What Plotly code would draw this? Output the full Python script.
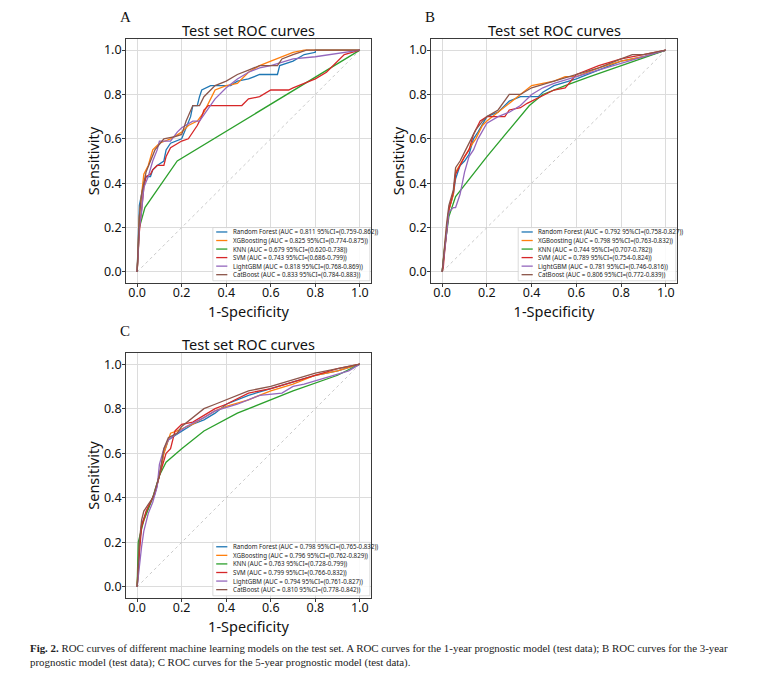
import plotly.graph_objects as go

# model names / colours (matplotlib tab10)
models = ["Random Forest", "XGBoosting", "KNN", "SVM", "LightGBM", "CatBoost"]
colors = ["#1f77b4", "#ff7f0e", "#2ca02c", "#d62728", "#9467bd", "#8c564b"]

# ---- panel A: 1-year model ----
a_auc = ["0.811", "0.825", "0.679", "0.743", "0.818", "0.833"]
a_ci = ["0.759-0.862", "0.774-0.875", "0.620-0.738", "0.686-0.799", "0.768-0.869", "0.784-0.883"]
a_rf_fpr = [0, 0.005, 0.01, 0.02, 0.03, 0.04, 0.06, 0.07, 0.09, 0.12, 0.13, 0.15, 0.18, 0.2, 0.22, 0.24, 0.25, 0.27, 0.28, 0.29, 0.33, 0.37, 0.42, 0.45, 0.5, 0.55, 0.63, 0.64, 0.7, 0.75, 0.8, 0.8, 1]
a_rf_tpr = [0, 0.2, 0.3, 0.35, 0.4, 0.43, 0.43, 0.46, 0.48, 0.5, 0.55, 0.58, 0.59, 0.6, 0.65, 0.7, 0.75, 0.75, 0.79, 0.82, 0.84, 0.84, 0.84, 0.86, 0.87, 0.89, 0.89, 0.93, 0.95, 0.98, 0.99, 1.0, 1]
a_xgb_fpr = [0, 0.01, 0.02, 0.03, 0.05, 0.07, 0.1, 0.15, 0.2, 0.23, 0.27, 0.3, 0.33, 0.35, 0.4, 0.45, 0.5, 0.55, 0.6, 0.65, 0.7, 0.75, 1]
a_xgb_tpr = [0, 0.25, 0.35, 0.44, 0.48, 0.55, 0.58, 0.6, 0.63, 0.66, 0.68, 0.72, 0.78, 0.82, 0.84, 0.85, 0.9, 0.93, 0.95, 0.97, 0.99, 1.0, 1]
a_knn_fpr = [0, 0.005, 0.01, 0.035, 0.18, 1]
a_knn_tpr = [0, 0.1, 0.2, 0.29, 0.5, 1]
a_svm_fpr = [0, 0.01, 0.02, 0.03, 0.04, 0.06, 0.07, 0.09, 0.12, 0.13, 0.15, 0.18, 0.2, 0.23, 0.25, 0.27, 0.29, 0.3, 0.32, 0.4, 0.47, 0.5, 0.55, 0.6, 0.68, 0.7, 0.75, 0.8, 0.85, 0.9, 0.93, 1]
a_svm_tpr = [0, 0.18, 0.28, 0.38, 0.43, 0.44, 0.46, 0.48, 0.48, 0.52, 0.56, 0.58, 0.59, 0.6, 0.63, 0.66, 0.7, 0.73, 0.75, 0.75, 0.75, 0.78, 0.79, 0.82, 0.82, 0.83, 0.85, 0.87, 0.9, 0.95, 0.98, 1]
a_lgb_fpr = [0, 0.01, 0.02, 0.03, 0.05, 0.07, 0.09, 0.1, 0.15, 0.18, 0.2, 0.25, 0.28, 0.3, 0.35, 0.4, 0.45, 0.5, 0.55, 0.6, 0.7, 0.8, 0.93, 1]
a_lgb_tpr = [0, 0.2, 0.27, 0.38, 0.43, 0.5, 0.55, 0.59, 0.59, 0.63, 0.65, 0.68, 0.68, 0.71, 0.78, 0.83, 0.87, 0.9, 0.92, 0.93, 0.96, 0.97, 0.99, 1]
a_cat_fpr = [0, 0.01, 0.02, 0.04, 0.06, 0.08, 0.12, 0.17, 0.2, 0.22, 0.25, 0.28, 0.3, 0.33, 0.35, 0.4, 0.45, 0.5, 0.55, 0.63, 0.65, 0.7, 0.76, 1]
a_cat_tpr = [0, 0.25, 0.35, 0.45, 0.5, 0.55, 0.6, 0.61, 0.62, 0.68, 0.75, 0.75, 0.79, 0.82, 0.84, 0.86, 0.89, 0.91, 0.93, 0.93, 0.96, 0.98, 1.0, 1]

# ---- panel B: 3-year model ----
b_auc = ["0.792", "0.798", "0.744", "0.789", "0.781", "0.806"]
b_ci = ["0.758-0.827", "0.763-0.832", "0.707-0.782", "0.754-0.824", "0.746-0.816", "0.772-0.839"]
b_rf_fpr = [0, 0.005, 0.01, 0.02, 0.03, 0.05, 0.06, 0.08, 0.1, 0.12, 0.14, 0.16, 0.2, 0.25, 0.3, 0.35, 0.43, 0.45, 0.5, 0.6, 0.7, 0.8, 0.9, 1]
b_rf_tpr = [0, 0.05, 0.1, 0.2, 0.28, 0.35, 0.42, 0.48, 0.5, 0.53, 0.6, 0.63, 0.7, 0.72, 0.77, 0.79, 0.79, 0.81, 0.84, 0.87, 0.91, 0.95, 0.97, 1]
b_xgb_fpr = [0, 0.005, 0.01, 0.02, 0.03, 0.05, 0.06, 0.1, 0.13, 0.15, 0.18, 0.2, 0.25, 0.3, 0.35, 0.4, 0.45, 0.5, 0.55, 0.6, 0.7, 0.8, 0.9, 1]
b_xgb_tpr = [0, 0.06, 0.1, 0.2, 0.28, 0.35, 0.45, 0.52, 0.57, 0.6, 0.66, 0.68, 0.72, 0.76, 0.8, 0.84, 0.85, 0.86, 0.88, 0.88, 0.92, 0.95, 0.97, 1]
b_knn_fpr = [0, 0.01, 0.03, 0.06, 0.2, 0.39, 0.45, 0.55, 0.66, 0.8, 1]
b_knn_tpr = [0, 0.1, 0.25, 0.34, 0.52, 0.75, 0.8, 0.84, 0.88, 0.93, 1]
b_svm_fpr = [0, 0.005, 0.01, 0.02, 0.03, 0.05, 0.06, 0.1, 0.12, 0.14, 0.17, 0.2, 0.28, 0.3, 0.35, 0.38, 0.42, 0.5, 0.55, 0.6, 0.7, 0.8, 0.9, 1]
b_svm_tpr = [0, 0.02, 0.08, 0.18, 0.28, 0.36, 0.44, 0.52, 0.55, 0.62, 0.68, 0.7, 0.7, 0.73, 0.74, 0.76, 0.78, 0.82, 0.83, 0.89, 0.93, 0.96, 0.98, 1]
b_lgb_fpr = [0, 0.005, 0.01, 0.02, 0.03, 0.05, 0.06, 0.08, 0.1, 0.12, 0.14, 0.16, 0.2, 0.25, 0.3, 0.35, 0.4, 0.45, 0.5, 0.6, 0.7, 0.8, 0.9, 1]
b_lgb_tpr = [0, 0.05, 0.1, 0.2, 0.27, 0.29, 0.29, 0.35, 0.45, 0.52, 0.55, 0.6, 0.67, 0.7, 0.72, 0.75, 0.8, 0.83, 0.85, 0.88, 0.91, 0.94, 0.97, 1]
b_cat_fpr = [0, 0.005, 0.01, 0.02, 0.03, 0.05, 0.06, 0.08, 0.1, 0.13, 0.15, 0.18, 0.2, 0.25, 0.28, 0.3, 0.35, 0.4, 0.5, 0.6, 0.7, 0.8, 0.85, 0.9, 1]
b_cat_tpr = [0, 0.06, 0.12, 0.22, 0.3, 0.37, 0.47, 0.5, 0.54, 0.6, 0.64, 0.68, 0.7, 0.73, 0.77, 0.8, 0.8, 0.83, 0.86, 0.89, 0.92, 0.96, 0.98, 0.98, 1]

# ---- panel C: 5-year model ----
c_auc = ["0.798", "0.796", "0.763", "0.799", "0.794", "0.810"]
c_ci = ["0.765-0.832", "0.762-0.829", "0.728-0.799", "0.766-0.832", "0.761-0.827", "0.778-0.842"]
c_rf_fpr = [0, 0.005, 0.01, 0.02, 0.04, 0.06, 0.08, 0.1, 0.12, 0.14, 0.17, 0.2, 0.25, 0.3, 0.35, 0.4, 0.5, 0.6, 0.7, 0.8, 0.9, 1]
c_rf_tpr = [0, 0.06, 0.18, 0.28, 0.33, 0.38, 0.42, 0.5, 0.6, 0.66, 0.68, 0.7, 0.73, 0.75, 0.78, 0.82, 0.86, 0.89, 0.92, 0.95, 0.97, 1]
c_xgb_fpr = [0, 0.005, 0.01, 0.02, 0.04, 0.06, 0.08, 0.1, 0.12, 0.15, 0.18, 0.2, 0.25, 0.3, 0.35, 0.4, 0.5, 0.6, 0.7, 0.8, 0.9, 1]
c_xgb_tpr = [0, 0.1, 0.2, 0.27, 0.33, 0.38, 0.42, 0.5, 0.6, 0.69, 0.7, 0.71, 0.73, 0.76, 0.79, 0.81, 0.84, 0.88, 0.91, 0.95, 0.97, 1]
c_knn_fpr = [0, 0.005, 0.03, 0.07, 0.1, 0.13, 0.2, 0.3, 0.45, 0.6, 0.7, 0.9, 1]
c_knn_tpr = [0, 0.2, 0.3, 0.4, 0.5, 0.56, 0.62, 0.7, 0.78, 0.84, 0.88, 0.95, 1]
c_svm_fpr = [0, 0.005, 0.01, 0.02, 0.04, 0.06, 0.08, 0.1, 0.13, 0.15, 0.17, 0.2, 0.25, 0.3, 0.35, 0.4, 0.5, 0.6, 0.7, 0.8, 0.9, 1]
c_svm_tpr = [0, 0.1, 0.15, 0.27, 0.34, 0.38, 0.42, 0.5, 0.6, 0.62, 0.7, 0.73, 0.74, 0.77, 0.8, 0.82, 0.87, 0.89, 0.92, 0.95, 0.98, 1]
c_lgb_fpr = [0, 0.01, 0.02, 0.03, 0.05, 0.07, 0.09, 0.1, 0.12, 0.14, 0.18, 0.22, 0.3, 0.35, 0.45, 0.55, 0.65, 0.7, 0.75, 0.85, 0.95, 1]
c_lgb_tpr = [0, 0.1, 0.18, 0.25, 0.33, 0.38, 0.45, 0.55, 0.62, 0.66, 0.69, 0.72, 0.76, 0.79, 0.82, 0.86, 0.87, 0.9, 0.91, 0.94, 0.97, 1]
c_cat_fpr = [0, 0.005, 0.01, 0.02, 0.03, 0.05, 0.07, 0.1, 0.12, 0.14, 0.18, 0.2, 0.25, 0.3, 0.35, 0.4, 0.5, 0.6, 0.7, 0.8, 0.9, 1]
c_cat_tpr = [0, 0.15, 0.2, 0.3, 0.34, 0.37, 0.4, 0.5, 0.62, 0.67, 0.69, 0.72, 0.76, 0.8, 0.82, 0.84, 0.88, 0.9, 0.93, 0.96, 0.98, 1]

diag = [0, 1]
ticks = [0.0, 0.2, 0.4, 0.6, 0.8, 1.0]

panels = [
    dict(letter="A", auc=a_auc, ci=a_ci, ax="", dom_x=[126, 371], dom_y=[39, 283],
         fpr=[a_rf_fpr, a_xgb_fpr, a_knn_fpr, a_svm_fpr, a_lgb_fpr, a_cat_fpr],
         tpr=[a_rf_tpr, a_xgb_tpr, a_knn_tpr, a_svm_tpr, a_lgb_tpr, a_cat_tpr]),
    dict(letter="B", auc=b_auc, ci=b_ci, ax="2", dom_x=[431, 677], dom_y=[39, 283],
         fpr=[b_rf_fpr, b_xgb_fpr, b_knn_fpr, b_svm_fpr, b_lgb_fpr, b_cat_fpr],
         tpr=[b_rf_tpr, b_xgb_tpr, b_knn_tpr, b_svm_tpr, b_lgb_tpr, b_cat_tpr]),
    dict(letter="C", auc=c_auc, ci=c_ci, ax="3", dom_x=[126, 371], dom_y=[353, 598],
         fpr=[c_rf_fpr, c_xgb_fpr, c_knn_fpr, c_svm_fpr, c_lgb_fpr, c_cat_fpr],
         tpr=[c_rf_tpr, c_xgb_tpr, c_knn_tpr, c_svm_tpr, c_lgb_tpr, c_cat_tpr]),
]

# the page body keeps its 8px margin, so the figure is drawn 8px in from the corner
OFF = 8
W, H = 765 - 2 * OFF, 685 - 2 * OFF


def px(x):
    return (x - OFF) / W


def py(y):
    return 1 - (y - OFF) / H


font = "Noto Sans"
fig = go.Figure()
shapes = []
annots = []
layout_axes = {}

for p in panels:
    xa, ya = "x" + p["ax"], "y" + p["ax"]
    fig.add_trace(go.Scatter(x=diag, y=diag, mode="lines", xaxis=xa, yaxis=ya, showlegend=False,
                             line=dict(color="#bdbdbd", width=0.8, dash="dot")))
    for i, m in enumerate(models):
        fig.add_trace(go.Scatter(x=p["fpr"][i], y=p["tpr"][i], mode="lines", xaxis=xa, yaxis=ya,
                                 name=m, showlegend=False, line=dict(color=colors[i], width=1.3)))

    x0, x1 = px(p["dom_x"][0]), px(p["dom_x"][1])
    y0, y1 = py(p["dom_y"][1]), py(p["dom_y"][0])
    axstyle = dict(range=[-0.05, 1.05], tickvals=ticks, tickformat=".1f", showgrid=True,
                   gridcolor="#dcdcdc", gridwidth=0.8, zeroline=False, showline=True, mirror=True,
                   linecolor="#3a3a3a", linewidth=0.8, ticks="outside", ticklen=3, tickcolor="#3a3a3a",
                   tickfont=dict(family=font, size=12.5, color="#111"))
    layout_axes["xaxis" + p["ax"]] = dict(axstyle, domain=[x0, x1], anchor=ya, ticklabelstandoff=-5,
                                          title=dict(text="1-Specificity", standoff=0,
                                                     font=dict(family=font, size=14.5, color="#111")))
    layout_axes["yaxis" + p["ax"]] = dict(axstyle, domain=[y0, y1], anchor=xa, ticklabelstandoff=-2,
                                          title=dict(text="Sensitivity", standoff=0,
                                                     font=dict(family=font, size=14.5, color="#111")))

    # panel letter and title
    annots.append(dict(text=p["letter"], x=px(p["dom_x"][0] - 8), y=py(p["dom_y"][0] - 22),
                       xref="paper", yref="paper", xanchor="left", yanchor="middle", showarrow=False,
                       font=dict(family="Liberation Serif", size=15, color="#111")))
    annots.append(dict(text="Test set ROC curves", x=(x0 + x1) / 2, y=py(p["dom_y"][0] - 9),
                       xref="paper", yref="paper", xanchor="center", yanchor="middle", showarrow=False,
                       font=dict(family=font, size=14.5, color="#111")))

    # legend box drawn in data coordinates, lower right
    shapes.append(dict(type="rect", xref=xa, yref=ya, x0=0.34, x1=1.045, y0=-0.04, y1=0.2,
                       fillcolor="rgba(255,255,255,0.85)", line=dict(color="#cccccc", width=0.7),
                       layer="above"))
    for i, m in enumerate(models):
        yy = 0.18 - i * 0.0385
        shapes.append(dict(type="line", xref=xa, yref=ya, x0=0.355, x1=0.405, y0=yy, y1=yy,
                           line=dict(color=colors[i], width=1.3), layer="above"))
        label = f"{m} (AUC = {p['auc'][i]} 95%CI=({p['ci'][i]}))"
        annots.append(dict(text=label, x=0.42, y=yy, xref=xa, yref=ya, xanchor="left",
                           yanchor="middle", showarrow=False,
                           font=dict(family=font, size=6.2, color="#222")))

caption = ("<b>Fig. 2.</b> ROC curves of different machine learning models on the test set. "
           "A ROC curves for the 1-year prognostic model (test data); B ROC curves for the 3-year<br>"
           "prognostic model (test data); C ROC curves for the 5-year prognostic model (test data).")
annots.append(dict(text=caption, x=px(28), y=py(640), xref="paper", yref="paper",
                   xanchor="left", yanchor="top", align="left", showarrow=False,
                   font=dict(family="Liberation Serif", size=10.9, color="#222")))

fig.update_layout(width=W, height=H, margin=dict(l=0, r=0, t=0, b=0),
                  paper_bgcolor="white", plot_bgcolor="white",
                  shapes=shapes, annotations=annots, **layout_axes)

fig.write_html("out.html")
